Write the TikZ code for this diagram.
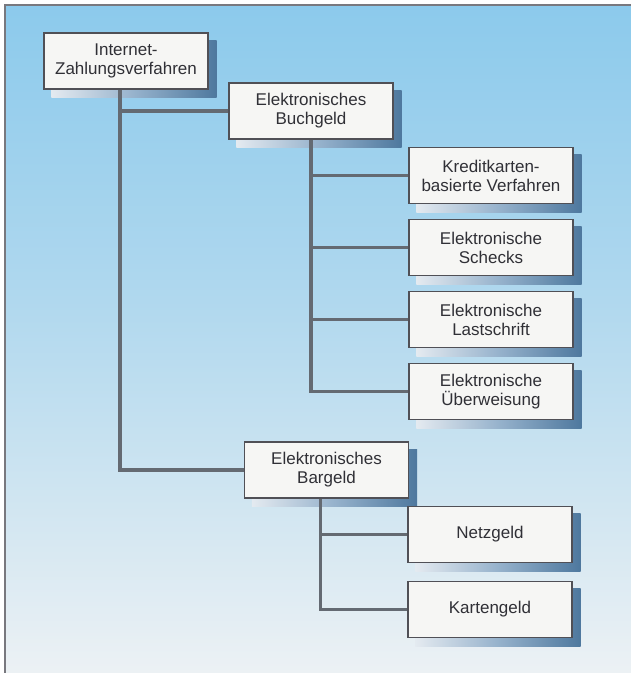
\documentclass[tikz,border=0pt]{standalone}
\usepackage{fontspec}
\setmainfont{Liberation Sans}
\usetikzlibrary{calc}
\pgfdeclarelayer{bg}
\pgfsetlayers{bg,main}
\definecolor{bgtop}{RGB}{140,202,236}
\definecolor{bgmid}{RGB}{176,216,238}
\definecolor{bgbot}{RGB}{236,241,244}
\definecolor{shadowdark}{RGB}{78,120,158}
\definecolor{shadowmid}{RGB}{150,178,204}
\definecolor{shadowlight}{RGB}{228,234,240}
\definecolor{boxfill}{RGB}{246,246,244}
\definecolor{boxline}{RGB}{80,80,86}
\definecolor{conn}{RGB}{100,106,114}
\definecolor{txt}{RGB}{48,48,54}
\definecolor{frameline}{RGB}{120,120,126}
\tikzset{
  cat/.style={draw=boxline, line width=1.2pt, fill=boxfill, text=txt,
    font=\fontsize{17}{19}\selectfont, align=center,
    minimum width=164pt, minimum height=56pt, inner sep=0pt},
  link/.style={draw=conn, line width=3.2pt},
  shadowbox/.style={left color=shadowlight, right color=shadowdark, middle color=shadowmid}
}
\begin{document}
\begin{tikzpicture}[x=1pt,y=-1pt]
\useasboundingbox (0,0) rectangle (631,673);
\begin{pgfonlayer}{bg}
  \fill[white] (0,0) rectangle (631,673);
  \shade[top color=bgtop, bottom color=bgmid] (5,5) rectangle (631,300);
  \shade[top color=bgmid, bottom color=bgbot] (5,300) rectangle (631,673);
  \draw[frameline, line width=1.5pt] (631,5) -- (5,5) -- (5,673);
\end{pgfonlayer}

\node[cat] (top) at (126,61) {Internet-\\Zahlungsverfahren};
\node[cat] (buch) at (311,111) {Elektronisches\\Buchgeld};
\node[cat] (kredit) at (491,175.5) {Kreditkarten-\\basierte Verfahren};
\node[cat] (scheck) at (491,247.5) {Elektronische\\Schecks};
\node[cat] (last) at (491,319.5) {Elektronische\\Lastschrift};
\node[cat] (ueber) at (491,391.5) {Elektronische\\Überweisung};
\node[cat] (bar) at (326.5,470) {Elektronisches\\Bargeld};
\node[cat] (netz) at (490,534.5) {Netzgeld};
\node[cat] (karten) at (490,609.5) {Kartengeld};

\begin{pgfonlayer}{bg}
  \foreach \n in {top,buch,kredit,scheck,last,ueber,bar,netz,karten}{
    \shade[shadowbox] ($(\n.south west)+(8,8)$) rectangle ($(\n.north east)+(8,8)$);
  }
\end{pgfonlayer}

\coordinate (t0) at ([xshift=-6pt]top.south);
\coordinate (b0) at (buch.south);
\coordinate (c0) at ([xshift=-6pt]bar.south);

\draw[link] (t0) |- (bar.west);
\draw[link] (t0 |- buch.west) -- (buch.west);
\draw[link] (b0) |- (ueber.west);
\draw[link] (b0 |- kredit.west) -- (kredit.west);
\draw[link] (b0 |- scheck.west) -- (scheck.west);
\draw[link] (b0 |- last.west) -- (last.west);
\draw[link] (c0) |- (karten.west);
\draw[link] (c0 |- netz.west) -- (netz.west);
\end{tikzpicture}
\end{document}
